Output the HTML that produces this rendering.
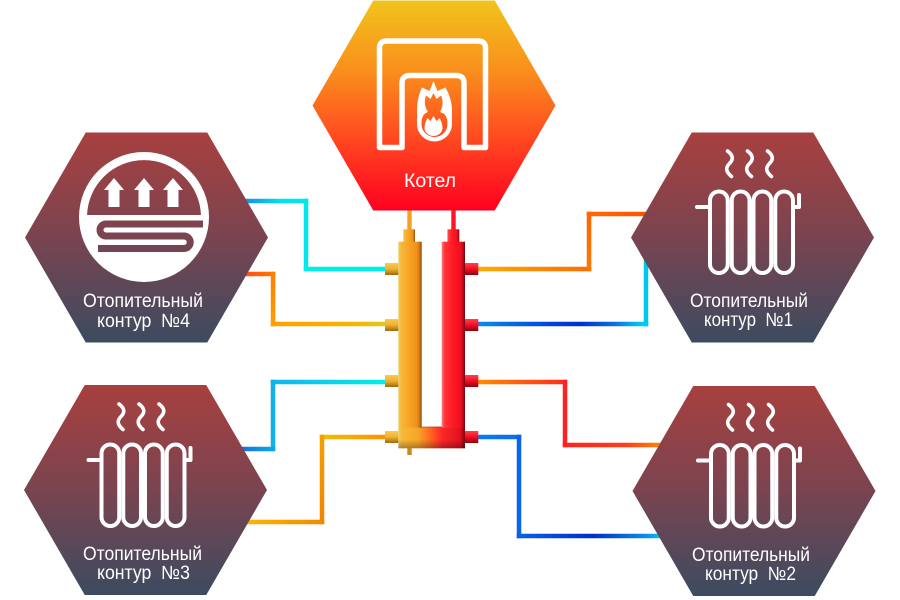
<!DOCTYPE html>
<html><head><meta charset="utf-8">
<style>
html,body{margin:0;padding:0;background:#fff;width:900px;height:600px;overflow:hidden;}
svg{display:block}
text{font-family:"Liberation Sans","DejaVu Sans",sans-serif;fill:#fff;font-size:19px;}
</style></head><body>
<svg width="900" height="600" viewBox="0 0 900 600" xmlns="http://www.w3.org/2000/svg">
<defs>
 <linearGradient id="hg" x1="0" y1="0" x2="0" y2="1">
  <stop offset="0" stop-color="#a8403f"/>
  <stop offset="0.5" stop-color="#7a4450"/>
  <stop offset="1" stop-color="#3c4b60"/>
 </linearGradient>
 <linearGradient id="h4u" gradientUnits="userSpaceOnUse" x1="0" y1="132.5" x2="0" y2="342.5">
  <stop offset="0" stop-color="#a8403f"/>
  <stop offset="0.5" stop-color="#7a4450"/>
  <stop offset="1" stop-color="#3c4b60"/>
 </linearGradient>
 <linearGradient id="kg" x1="0" y1="0" x2="0" y2="1">
  <stop offset="0" stop-color="#f0c41c"/>
  <stop offset="0.35" stop-color="#fa8c1c"/>
  <stop offset="0.65" stop-color="#ff4a20"/>
  <stop offset="1" stop-color="#ff0020"/>
 </linearGradient>
 <linearGradient id="kgu" gradientUnits="userSpaceOnUse" x1="0" y1="0.5" x2="0" y2="210.5">
  <stop offset="0" stop-color="#f0c41c"/>
  <stop offset="0.35" stop-color="#fa8c1c"/>
  <stop offset="0.65" stop-color="#ff4a20"/>
  <stop offset="1" stop-color="#ff0020"/>
 </linearGradient>
 <!-- pipes -->
 <linearGradient id="gA1"><stop offset="0" stop-color="#1a84e6"/><stop offset="0.6" stop-color="#00e2f0"/><stop offset="1" stop-color="#00eaee"/></linearGradient>
 <linearGradient id="gB1"><stop offset="0" stop-color="#ff4a14"/><stop offset="1" stop-color="#ff7a00"/></linearGradient>
 <linearGradient id="gB2" x1="0" y1="0" x2="0" y2="1"><stop offset="0" stop-color="#ff7e00"/><stop offset="1" stop-color="#ffa000"/></linearGradient>
 <linearGradient id="gB3"><stop offset="0" stop-color="#ffa000"/><stop offset="0.7" stop-color="#f5b400"/><stop offset="1" stop-color="#e0c820"/></linearGradient>
 <linearGradient id="gC1"><stop offset="0" stop-color="#12b4ee"/><stop offset="1" stop-color="#00f0e6"/></linearGradient>
 <linearGradient id="gC3"><stop offset="0" stop-color="#1270e0"/><stop offset="1" stop-color="#10a8ec"/></linearGradient>
 <linearGradient id="gD1"><stop offset="0" stop-color="#f0c000"/><stop offset="1" stop-color="#ff9000"/></linearGradient>
 <linearGradient id="gD2" x1="0" y1="0" x2="0" y2="1"><stop offset="0" stop-color="#f5a000"/><stop offset="1" stop-color="#f08400"/></linearGradient>
 <linearGradient id="gD3"><stop offset="0" stop-color="#ffb800"/><stop offset="1" stop-color="#f08a00"/></linearGradient>
 <linearGradient id="gE1"><stop offset="0" stop-color="#ffaa00"/><stop offset="1" stop-color="#ff6a00"/></linearGradient>
 <linearGradient id="gE2" x1="0" y1="0" x2="0" y2="1"><stop offset="0" stop-color="#ff6400"/><stop offset="1" stop-color="#ff7800"/></linearGradient>
 <linearGradient id="gE3"><stop offset="0" stop-color="#ff6a00"/><stop offset="1" stop-color="#ff4a00"/></linearGradient>
 <linearGradient id="gF1"><stop offset="0" stop-color="#0a8af0"/><stop offset="0.35" stop-color="#0050dc"/><stop offset="0.6" stop-color="#0030c8"/><stop offset="0.8" stop-color="#0a70e0"/><stop offset="1" stop-color="#00e0f0"/></linearGradient>
 <linearGradient id="gG1"><stop offset="0" stop-color="#ff8c00"/><stop offset="1" stop-color="#ff2a20"/></linearGradient>
 <linearGradient id="gG3"><stop offset="0" stop-color="#ff2020"/><stop offset="0.6" stop-color="#ff4018"/><stop offset="1" stop-color="#ff9800"/></linearGradient>
 <linearGradient id="gH1"><stop offset="0" stop-color="#0a7cf0"/><stop offset="1" stop-color="#0a6cee"/></linearGradient>
 <linearGradient id="gH3"><stop offset="0" stop-color="#0a60e8"/><stop offset="0.5" stop-color="#0030c8"/><stop offset="0.85" stop-color="#0a90e8"/><stop offset="1" stop-color="#00e8f0"/></linearGradient>
 <!-- manifold -->
 <linearGradient id="lc"><stop offset="0" stop-color="#e6d070"/><stop offset="0.12" stop-color="#f8b838"/><stop offset="0.45" stop-color="#f7a526"/><stop offset="0.8" stop-color="#f09018"/><stop offset="0.92" stop-color="#c87014"/><stop offset="1" stop-color="#7a4a12"/></linearGradient>
 <linearGradient id="rc"><stop offset="0" stop-color="#ff8080"/><stop offset="0.12" stop-color="#ff3838"/><stop offset="0.45" stop-color="#ff1a24"/><stop offset="0.8" stop-color="#f01020"/><stop offset="0.92" stop-color="#b80c1c"/><stop offset="1" stop-color="#6a0010"/></linearGradient>
 <linearGradient id="ub"><stop offset="0" stop-color="#e6d070"/><stop offset="0.05" stop-color="#f8b838"/><stop offset="0.3" stop-color="#f7a526"/><stop offset="0.5" stop-color="#ff6020"/><stop offset="0.65" stop-color="#ff2828"/><stop offset="0.93" stop-color="#e01020"/><stop offset="1" stop-color="#800010"/></linearGradient>
 <linearGradient id="ubs" x1="0" y1="0" x2="0" y2="1"><stop offset="0" stop-color="#000" stop-opacity="0"/><stop offset="0.6" stop-color="#000" stop-opacity="0"/><stop offset="1" stop-color="#000" stop-opacity="0.3"/></linearGradient>
 <linearGradient id="ln" x1="0" y1="0" x2="0" y2="1"><stop offset="0" stop-color="#f8cc50"/><stop offset="0.5" stop-color="#f2b030"/><stop offset="1" stop-color="#9a6a10"/></linearGradient>
 <linearGradient id="rn" x1="0" y1="0" x2="0" y2="1"><stop offset="0" stop-color="#ff4050"/><stop offset="0.5" stop-color="#f01020"/><stop offset="1" stop-color="#900010"/></linearGradient>
</defs>

<!-- PIPES -->
<!-- A -->
<rect x="240" y="198.75" width="68.25" height="4.5" fill="url(#gA1)"/>
<rect x="303.75" y="198.75" width="4.5" height="72.5" fill="#00e8ee"/>
<rect x="303.75" y="266.75" width="82.25" height="4.5" fill="#00eeea"/>
<!-- B -->
<rect x="240" y="271.75" width="35.25" height="4.5" fill="url(#gB1)"/>
<rect x="270.75" y="271.75" width="4.5" height="54.5" fill="url(#gB2)"/>
<rect x="270.75" y="321.75" width="115.25" height="4.5" fill="url(#gB3)"/>
<!-- C -->
<rect x="270.75" y="379.75" width="115.25" height="4.5" fill="url(#gC1)"/>
<rect x="270.75" y="379.75" width="4.5" height="71.5" fill="#10b0ec"/>
<rect x="240" y="446.75" width="35.25" height="4.5" fill="url(#gC3)"/>
<!-- D -->
<rect x="319.75" y="434.75" width="66.25" height="4.5" fill="url(#gD1)"/>
<rect x="319.75" y="434.75" width="4.5" height="89.5" fill="url(#gD2)"/>
<rect x="240" y="519.75" width="84.25" height="4.5" fill="url(#gD3)"/>
<!-- E -->
<rect x="478" y="266.75" width="113.25" height="4.5" fill="url(#gE1)"/>
<rect x="586.75" y="211.75" width="4.5" height="59.5" fill="url(#gE2)"/>
<rect x="586.75" y="211.75" width="83.25" height="4.5" fill="url(#gE3)"/>
<!-- F -->
<rect x="478" y="321.75" width="170.25" height="4.5" fill="url(#gF1)"/>
<rect x="643.75" y="230" width="4.5" height="96.25" fill="#00c8ec"/>
<!-- G -->
<rect x="478" y="379.75" width="89.25" height="4.5" fill="url(#gG1)"/>
<rect x="562.75" y="379.75" width="4.5" height="67.5" fill="#ff2222"/>
<rect x="562.75" y="442.75" width="107.25" height="4.5" fill="url(#gG3)"/>
<!-- H -->
<rect x="478" y="434.75" width="43.25" height="4.5" fill="url(#gH1)"/>
<rect x="516.75" y="434.75" width="4.5" height="103.5" fill="#0a64ea"/>
<rect x="516.75" y="533.75" width="153.25" height="4.5" fill="url(#gH3)"/>

<!-- boiler pipes -->
<rect x="407.3" y="200" width="4.4" height="31" fill="#f5a020"/>
<rect x="451.3" y="200" width="4.4" height="31" fill="#ff1525"/>

<!-- MANIFOLD -->
<rect x="403.3" y="229.3" width="11.7" height="13" fill="url(#lc)"/>
<rect x="447.3" y="229.3" width="12" height="13" fill="url(#rc)"/>
<rect x="407.3" y="447" width="4.4" height="8" fill="#c88a20"/>
<rect x="398.3" y="426.7" width="66.7" height="21.6" fill="url(#ub)"/>
<rect x="398.3" y="241.7" width="23.4" height="186" fill="url(#lc)"/>
<rect x="441.7" y="241.7" width="23.3" height="186" fill="url(#rc)"/>
<rect x="398.3" y="426.7" width="66.7" height="21.6" fill="url(#ubs)"/>
<rect x="421.7" y="426.2" width="20" height="1.5" fill="#000" opacity="0.15"/>
<!-- nozzles -->
<rect x="385" y="263" width="13.3" height="12" fill="url(#ln)"/>
<rect x="385" y="319" width="13.3" height="12" fill="url(#ln)"/>
<rect x="385" y="375" width="13.3" height="12" fill="url(#ln)"/>
<rect x="385" y="431" width="13.3" height="12" fill="url(#ln)"/>
<rect x="465" y="263" width="13.3" height="12" fill="url(#rn)"/>
<rect x="465" y="319" width="13.3" height="12" fill="url(#rn)"/>
<rect x="465" y="375" width="13.3" height="12" fill="url(#rn)"/>
<rect x="465" y="431" width="13.3" height="12" fill="url(#rn)"/>

<!-- HEXAGONS -->
<polygon points="312.5,105.5 373.25,0.5 494.75,0.5 555.5,105.5 494.75,210.5 373.25,210.5" fill="url(#kg)"/>
<polygon points="25,237.5 85.75,132.5 207.25,132.5 268,237.5 207.25,342.5 85.75,342.5" fill="url(#hg)"/>
<polygon points="631,237.5 691.75,132.5 813.25,132.5 874,237.5 813.25,342.5 691.75,342.5" fill="url(#hg)"/>
<polygon points="24,490 84.75,385 206.25,385 267,490 206.25,595 84.75,595" fill="url(#hg)"/>
<polygon points="632.5,491 693.25,386 814.75,386 875.5,491 814.75,596 693.25,596" fill="url(#hg)"/>

<!-- Boiler icon -->
<path d="M379.5,147.5 V48 Q379.5,41 387,41 H478 Q485.5,41 485.5,48 V147.5 H464 V83 Q464,75.5 456,75.5 H410 Q402,75.5 402,83 V147.5 Z" fill="none" stroke="#fff" stroke-width="5.5" stroke-linejoin="round"/>
<path d="M433.5,81 L437.5,91 L445.5,87.5 C449,94 452,101 452,111 L452,124 A17.5 17.5 0 0 1 417,124 L417,111 C417,101 419,94 422,87.5 L429.5,91 Z" fill="#fff"/>
<path d="M433.5,93 L436.5,99 L441,95.5 C443.5,101 443,107 440,112 C446,113.5 447.5,118 447.5,124 A13 13 0 0 1 421.5,124 C421.5,118 423,113.5 428,112 C424.5,107 424,101 426,95.5 L430.5,99 Z" fill="url(#kgu)"/>
<path d="M433.5,116 L436.5,121 L439.5,118 C442,122.5 442.5,126 442.5,128 A9 8 0 0 1 424.5,128 C424.5,126 425,122.5 427.5,118 L430.5,121 Z" fill="#fff"/>
<text x="404" y="187" textLength="52" lengthAdjust="spacingAndGlyphs">Котел</text>

<!-- Floor heating icon (hex4) -->
<circle cx="144" cy="217" r="65" fill="#fff"/>
<path d="M87.04,215 A57 57 0 0 1 200.96,215 Z" fill="url(#h4u)"/>
<polygon points="114,178 124,190 119.5,190 119.5,207 108.5,207 108.5,190 104,190" fill="#fff"/>
<polygon points="144,178 154,190 149.5,190 149.5,207 138.5,207 138.5,190 134,190" fill="#fff"/>
<polygon points="173,178 183,190 178.5,190 178.5,207 167.5,207 167.5,190 163,190" fill="#fff"/>
<path d="M203,224 H106 A6 6 0 0 0 106,236 H184 A6.25 6.25 0 0 1 184,248.5 H98" fill="none" stroke="url(#h4u)" stroke-width="7"/>

<!-- Radiator icons -->
<g id="rad" transform="translate(752.5,237.5)" fill="none" stroke="#fff" stroke-linecap="round" stroke-linejoin="round">
 <g stroke-width="4">
  <rect x="-42.5" y="-46" width="17.75" height="81.5" rx="8.875"/>
  <rect x="-20.75" y="-46" width="17.75" height="81.5" rx="8.875"/>
  <rect x="1" y="-46" width="17.75" height="81.5" rx="8.875"/>
  <rect x="22.75" y="-46" width="17.75" height="81.5" rx="8.875"/>
  <path d="M-55.5,-30.5 H-42.5 M40.5,-30.5 H46.5 V-42.5"/>
 </g>
 <g stroke-width="3.6">
  <path d="M-25,-86.5 C-19,-82 -19,-78 -23,-74 C-27,-70 -27,-66 -21,-61"/>
  <path d="M-5,-86.5 C1,-82 1,-78 -3,-74 C-7,-70 -7,-66 -1,-61"/>
  <path d="M15,-86.5 C21,-82 21,-78 17,-74 C13,-70 13,-66 19,-61"/>
 </g>
</g>
<use href="#rad" transform="translate(-608.5,253)"/>
<use href="#rad" transform="translate(1,253.5)"/>

<!-- Labels -->
<text x="83" y="307" textLength="120" lengthAdjust="spacingAndGlyphs">Отопительный</text>
<text x="97" y="327" textLength="93" lengthAdjust="spacingAndGlyphs" xml:space="preserve">контур  №4</text>
<text x="690" y="307" textLength="118" lengthAdjust="spacingAndGlyphs">Отопительный</text>
<text x="704" y="326" textLength="89" lengthAdjust="spacingAndGlyphs" xml:space="preserve">контур  №1</text>
<text x="83" y="560" textLength="119" lengthAdjust="spacingAndGlyphs">Отопительный</text>
<text x="97" y="579" textLength="93" lengthAdjust="spacingAndGlyphs" xml:space="preserve">контур  №3</text>
<text x="692" y="561" textLength="118" lengthAdjust="spacingAndGlyphs">Отопительный</text>
<text x="705" y="580" textLength="91" lengthAdjust="spacingAndGlyphs" xml:space="preserve">контур  №2</text>
</svg>
</body></html>
